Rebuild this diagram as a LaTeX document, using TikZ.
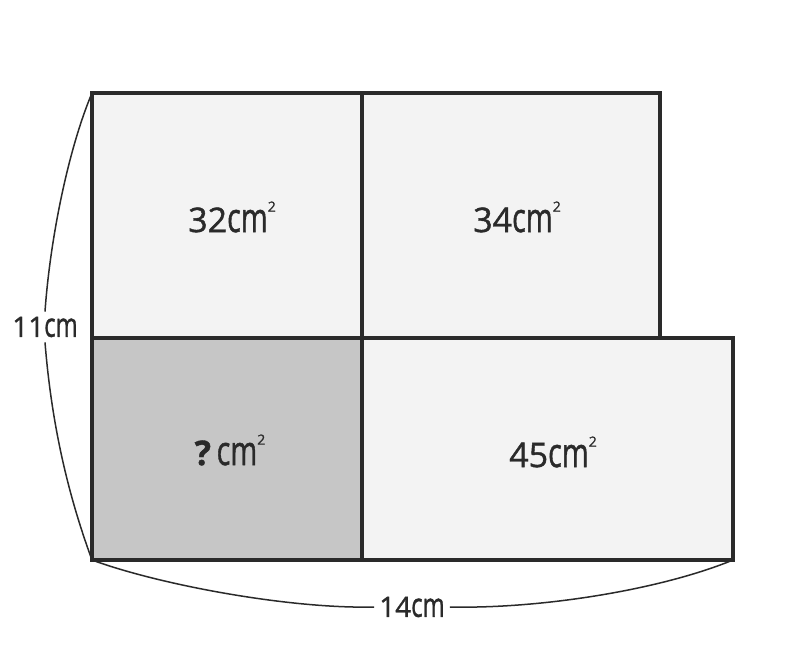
\documentclass[tikz,border=0pt]{standalone}
\usepackage{fontspec}
\setmainfont[FakeBold=1.2]{Open Sans}
\definecolor{boxfill}{HTML}{F3F3F3}
\definecolor{cellgray}{HTML}{C6C6C6}
\definecolor{ink}{HTML}{2A2A2A}
\newcommand{\cmu}{\scalebox{0.85}[1.2]{cm}}
\newcommand{\sqcm}{\cmu\raisebox{0.6em}{\fontsize{14}{14}\selectfont 2}}
\begin{document}
\begin{tikzpicture}[x=1pt,y=-1pt,
  cell/.style={draw=ink,line width=3.6pt},
  area/.style={font=\fontsize{34}{34}\selectfont,text=ink,inner sep=0pt},
  dim/.style={font=\fontsize{28}{28}\selectfont,text=ink,inner sep=5pt},
  brace/.style={draw=ink,line width=1.5pt}]
\useasboundingbox[fill=white] (0,0) rectangle (800,648);
\coordinate (A) at (92,93);
\coordinate (B) at (362,93);
\coordinate (C) at (660,93);
\coordinate (D) at (92,338);
\coordinate (E) at (362,338);
\coordinate (F) at (660,338);
\coordinate (G) at (733,338);
\coordinate (H) at (92,560);
\coordinate (I) at (362,560);
\coordinate (J) at (733,560);
\fill[boxfill] (A) rectangle (F);
\fill[boxfill] (E) rectangle (J);
\fill[cellgray] (D) rectangle (I);
\draw[cell] (A) rectangle (E);
\draw[cell] (B) rectangle (F);
\draw[cell] (D) rectangle (I);
\draw[cell] (E) rectangle (J);
\node[area] (n32) at (232,217) {32\sqcm};
\node[area] (n34) at (517,217) {34\sqcm};
\node[area] (nq) at (230,450) {\textbf{?}\,\sqcm};
\node[area] (n45) at (553,452) {45\sqcm};
\node[dim] (h) at (45,327) {11\cmu};
\node[dim] (w) at (412,607) {14\cmu};
\draw[brace] (A) .. controls (68,150) and (50,240) .. (h.north);
\draw[brace] (h.south) .. controls (52,430) and (70,500) .. (H);
\draw[brace] (H) .. controls (160,585) and (290,609) .. (w.west);
\draw[brace] (w.east) .. controls (540,609) and (660,590) .. (J);
\end{tikzpicture}
\end{document}
